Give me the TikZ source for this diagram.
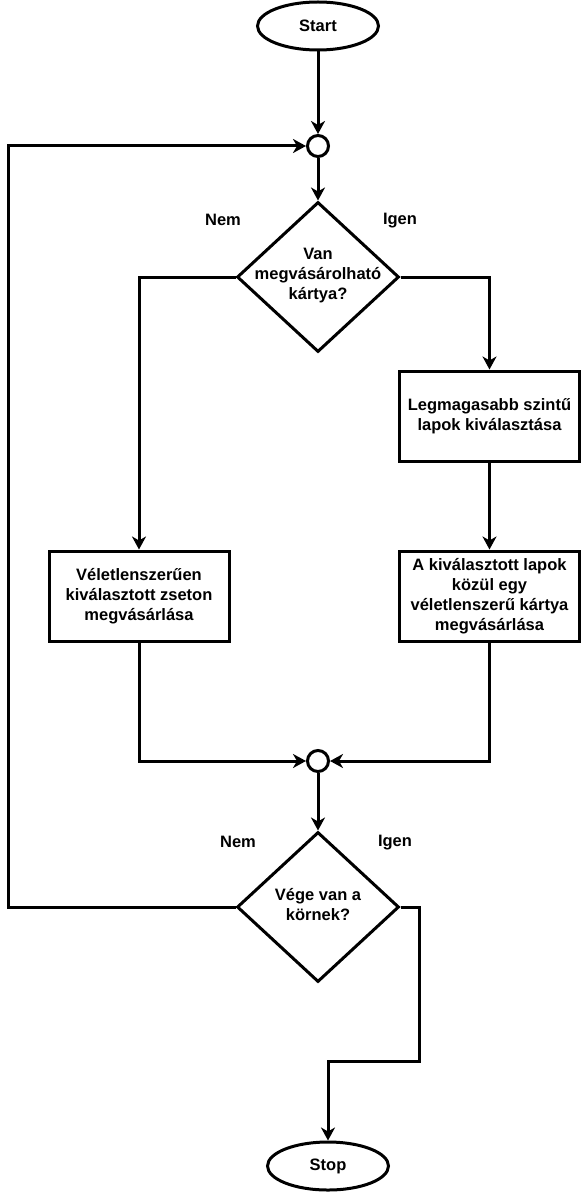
\documentclass[tikz,border=0pt]{standalone}
\usepackage{fontspec}
\setmainfont{Liberation Sans}
\usetikzlibrary{shapes.geometric,arrows.meta}
\begin{document}
\begin{tikzpicture}[x=1pt,y=-1pt,
  every node/.style={font=\bfseries\fontsize{16.5}{20}\selectfont, align=center, inner sep=0pt},
  base/.style={draw=black, line width=3pt, fill=white},
  term/.style={base, ellipse, minimum width=121pt, minimum height=48pt},
  junc/.style={base, circle, minimum size=21pt},
  dec/.style={base, diamond, minimum width=162pt, minimum height=150pt},
  proc/.style={base, rectangle, minimum width=180pt, minimum height=90pt},
  arr/.style={line width=3pt, -{Stealth[length=13pt,width=14pt,inset=4pt]}}
]
\useasboundingbox (0,0) rectangle (582,1201);

\node[term] (start) at (318,26) {Start};
\node[junc] (j1) at (318,146) {};
\node[dec] (d1) at (318,277) {};
\node (d1t) at (318,276) {Van\\megvásárolható\\kártya?};
\node (nem1) at (223,220) {Nem};
\node (igen1) at (400,221) {Igen};

\node[proc] (rbox1) at (489.5,416) {Legmagasabb szintű\\lapok kiválasztása};
\node[proc] (rbox2) at (489.5,596) {A kiválasztott lapok\\közül egy\\véletlenszerű kártya\\megvásárlása};
\node[proc] (lbox) at (139,596) {Véletlenszerűen\\kiválasztott zseton\\megvásárlása};

\node[junc] (j2) at (318,761) {};
\node[dec] (d2) at (318,907) {};
\node (d2t) at (318,905) {Vége van a\\körnek?};
\node (nem2) at (238,842) {Nem};
\node (igen2) at (395,843) {Igen};

\node[term] (stop) at (328,1166) {Stop};

\coordinate (loopL) at (8,146);
\coordinate (r1) at (419,1061);

\draw[arr] (start.south) -- (j1.north);
\draw[arr] (j1.south) -- (d1.north);
\draw[arr] (d1.west) -| (lbox.north);
\draw[arr] (d1.east) -| (rbox1.north);
\draw[arr] (rbox1.south) -- (rbox2.north);
\draw[arr] (lbox.south) |- (j2.west);
\draw[arr] (rbox2.south) |- (j2.east);
\draw[arr] (j2.south) -- (d2.north);
\draw[arr] (d2.west) -| (loopL) -- (j1.west);
\draw[arr] (d2.east) -| (r1) -| (stop.north);
\end{tikzpicture}
\end{document}
